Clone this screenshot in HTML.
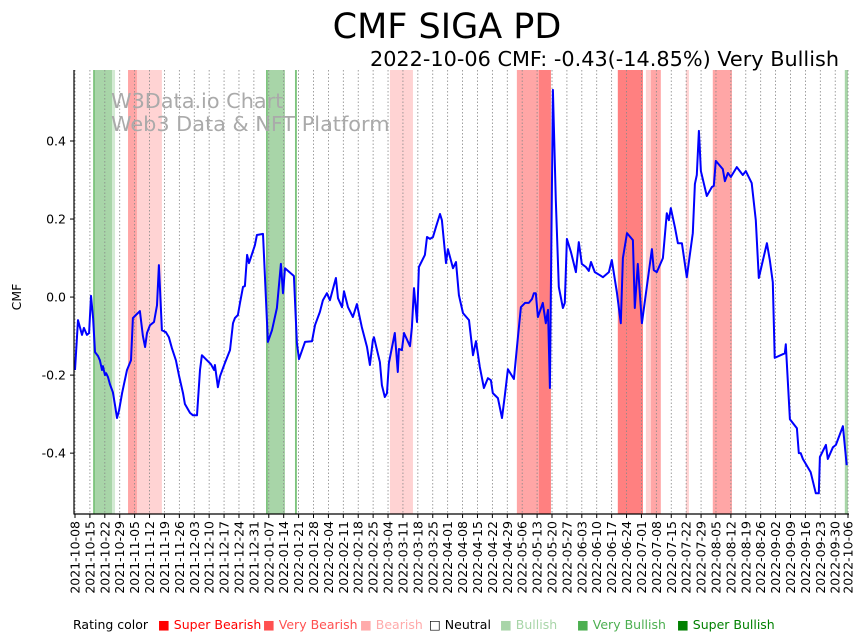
<!DOCTYPE html>
<html><head><meta charset="utf-8"><style>
body{margin:0;background:#fff;}
svg{display:block;font-family:"DejaVu Sans","Liberation Sans",sans-serif;}
</style></head><body>
<svg id="c" width="867" height="641" viewBox="0 0 867 641" xmlns="http://www.w3.org/2000/svg">
<text x="447" y="38" font-size="35" text-anchor="middle" fill="#000">CMF SIGA PD</text>
<text x="839" y="66" font-size="20.8" text-anchor="end" fill="#000">2022-10-06 CMF: -0.43(-14.85%) Very Bullish</text>
<g id="bands"></g>
<g id="grid"></g>
<text x="111" y="108" font-size="20.8" fill="#aaa">W3Data.io Chart</text>
<text x="111" y="131" font-size="20.8" fill="#aaa">Web3 Data &amp; NFT Platform</text>
<g id="series"></g>
<g id="axes"></g>
<text transform="translate(21,297) rotate(-90)" font-size="12.5" text-anchor="middle">CMF</text>
<g font-size="12.5">
<text x="73" y="629">Rating color</text>
<text x="158" y="629" fill="#ff0000">■ Super Bearish</text>
<text x="263" y="629" fill="#ff5050">■ Very Bearish</text>
<text x="360" y="629" fill="#ffaaaa">■ Bearish</text>
<text x="429" y="629" fill="#000">□ Neutral</text>
<text x="500" y="629" fill="#a8d5a8">■ Bullish</text>
<text x="577" y="629" fill="#4caf50">■ Very Bullish</text>
<text x="677" y="629" fill="#008000">■ Super Bullish</text>
</g>
</svg>
<script>
const startDate = Date.UTC(2021, 9, 8);
const totalDays = 363;
const yTicks = [-0.4, -0.2, 0.0, 0.2, 0.4];
const days = [0,1.4,3.3,4.2,5.6,6.6,7.5,8.5,9.4,10.8,11.7,12.7,13.1,14.1,14.6,15.5,16.4,17.8,18.8,19.7,20.7,22.1,23,24.4,26.3,27.2,28.6,30.5,31.9,32.9,33.8,35.2,37.1,38.5,39.4,40.8,42.7,44.1,45.5,47.4,48.8,50.7,51.6,54,55.4,57.3,58.7,59.6,62,63.8,65.3,65.7,67.1,68.1,70.4,72.8,74.2,75.1,76.5,77.5,78.9,79.8,80.8,81.7,84.5,85.4,88.3,90.6,92.5,94.8,96.7,97.7,98.6,102.8,104.2,105.2,108,111.3,112.7,115,116.4,118.3,119.7,122.5,123.5,125.4,126.3,128.2,130.5,132.4,134.7,137.1,138.5,139.9,140.4,143.2,144.1,145.5,146.5,147.4,150.2,151.6,152.1,153.5,154.5,157.3,158.2,159.2,160.6,161.5,164.3,165.3,166.7,168.1,169.5,171.4,172.3,174.2,175.1,177.5,178.9,180.3,182.2,185,186.9,188.3,190.1,192,193.9,195.3,196.2,198.6,200.5,201.9,203.3,206.1,208,209.4,211.3,213.1,214.6,215.5,216.4,217.4,219.7,221.1,222.1,223,224.4,225.8,227.2,229.1,230,231,232.9,235.2,236.6,238,239.9,241.3,242.3,244.1,246.5,247.9,250.7,252.1,254.5,256.3,257.3,259.2,262,262.9,264.3,266.2,268.5,270.9,271.8,273.2,276.1,277.9,278.9,279.8,281.7,283.1,285,287.3,290.1,291.1,292,293,293.9,296.7,299.1,300,300.9,304.2,305.2,306.6,308,310.8,313.6,315,317.8,319.7,321.1,324.9,326.3,327.7,328.6,333.3,333.8,335.7,339,339.9,340.8,341.8,345.5,347.9,349.3,349.8,352.6,353.5,355.9,357.3,360.6,362.4];
const cmf = [-0.187,-0.059,-0.097,-0.079,-0.097,-0.092,0.003,-0.054,-0.141,-0.151,-0.162,-0.187,-0.177,-0.2,-0.195,-0.205,-0.223,-0.244,-0.277,-0.31,-0.29,-0.246,-0.223,-0.187,-0.162,-0.054,-0.046,-0.036,-0.1,-0.128,-0.092,-0.072,-0.064,-0.021,0.082,-0.085,-0.09,-0.103,-0.131,-0.162,-0.2,-0.246,-0.274,-0.297,-0.303,-0.303,-0.187,-0.149,-0.162,-0.172,-0.187,-0.174,-0.231,-0.203,-0.169,-0.136,-0.067,-0.054,-0.046,-0.015,0.026,0.028,0.108,0.087,0.133,0.159,0.162,-0.115,-0.085,-0.028,0.085,0.01,0.074,0.054,-0.118,-0.159,-0.115,-0.113,-0.072,-0.038,-0.008,0.01,-0.008,0.049,-0.003,-0.026,0.015,-0.026,-0.051,-0.018,-0.077,-0.128,-0.174,-0.11,-0.103,-0.167,-0.226,-0.256,-0.246,-0.169,-0.092,-0.192,-0.133,-0.136,-0.092,-0.126,-0.077,0.023,-0.064,0.077,0.108,0.154,0.149,0.154,0.179,0.213,0.197,0.087,0.123,0.074,0.09,0.005,-0.041,-0.059,-0.149,-0.113,-0.179,-0.233,-0.208,-0.213,-0.246,-0.259,-0.31,-0.251,-0.185,-0.21,-0.103,-0.026,-0.015,-0.015,-0.005,0.01,0.01,-0.051,-0.015,-0.067,-0.033,-0.233,0.531,0.249,0.026,-0.028,-0.015,0.149,0.115,0.064,0.141,0.085,0.077,0.067,0.09,0.064,0.056,0.051,0.064,0.095,0.01,-0.067,0.1,0.164,0.146,-0.028,0.085,-0.067,0.026,0.123,0.069,0.064,0.1,0.215,0.197,0.228,0.179,0.138,0.138,0.051,0.164,0.29,0.313,0.426,0.323,0.259,0.282,0.285,0.349,0.328,0.297,0.318,0.308,0.333,0.313,0.323,0.292,0.197,0.049,0.138,0.095,0.038,-0.156,-0.144,-0.121,-0.313,-0.336,-0.4,-0.4,-0.415,-0.449,-0.503,-0.503,-0.41,-0.379,-0.415,-0.385,-0.379,-0.331,-0.431];
const bandStart = [8.5,9.4,17.4,24.9,29.1,89.7,90.6,103.3,147.9,207.5,217.8,254.9,268.1,270.4,286.9,299.5,361.5];
const bandEnd   = [9.4,17.4,18.8,29.1,40.8,90.6,98.6,104.2,158.7,217.8,223.5,266.7,270.4,275.1,288.3,308.5,363];
const bandRating= ["very-bullish","bullish","bullish-light","very-bearish","bearish","very-bullish","bullish","very-bullish","bearish","very-bearish","super-bearish","super-bearish","bearish","very-bearish","bearish","very-bearish","bullish"];
const bandColors = {"very-bullish":"#7fc47f","bullish":"#a8d5a8","bullish-light":"#d2ead2","very-bearish":"#ffa6a6","bearish":"#ffd3d3","super-bearish":"#ff8080"};

const X0=75, X1=848, Y0=70, Y1=514;
const yMin=-0.556, yMax=0.582;
const xs = d => X0 + (d/totalDays)*(X1-X0);
const ys = v => Y1 - (v-yMin)/(yMax-yMin)*(Y1-Y0);
const NS="http://www.w3.org/2000/svg";
function mk(tag, attrs, parent){const e=document.createElementNS(NS,tag);for(const k in attrs)e.setAttribute(k,attrs[k]);parent.appendChild(e);return e;}

const bands=document.getElementById('bands');
for(let i=0;i<bandStart.length;i++){
  const r=mk('rect',{x:xs(bandStart[i]),y:Y0,width:xs(bandEnd[i])-xs(bandStart[i]),height:Y1-Y0,fill:bandColors[bandRating[i]]},bands);
  
  
}

const grid=document.getElementById('grid');
const axes=document.getElementById('axes');
const tickDays=[];
for(let d=0; d<=totalDays-3; d+=7) tickDays.push(d);
tickDays.push(totalDays);
tickDays.forEach(d=>{
  const x=xs(d);
  const g=mk('line',{x1:x,x2:x,y1:Y0,y2:Y1,stroke:'#888','stroke-width':0.8,'stroke-dasharray':'1.5,2'},grid);
  
  
  const t=mk('line',{x1:x,x2:x,y1:Y1,y2:Y1+4,stroke:'#000','stroke-width':1},axes);
  
  
  const dt=new Date(startDate+d*86400000);
  const lbl=dt.toISOString().slice(0,10);
  const tx=mk('text',{transform:`translate(${x+4.5},${Y1+7}) rotate(-90)`,'font-size':12.5,'text-anchor':'end'},axes);
  tx.textContent=lbl;
  
  
});
yTicks.forEach(v=>{
  const y=ys(v);
  const t=mk('line',{x1:X0-5,x2:X0-1,y1:y,y2:y,stroke:'#000','stroke-width':1},axes);
  
  
  const tx=mk('text',{x:X0-9,y:y+4.5,'font-size':12.5,'text-anchor':'end'},axes);
  tx.textContent=v.toFixed(1);
  
  
});
const sp1=mk('line',{x1:X0-1,x2:X0-1,y1:Y0,y2:Y1+0.5,stroke:'#000','stroke-width':1.2},axes);


const sp2=mk('line',{x1:X0-1,x2:X1+1,y1:Y1,y2:Y1,stroke:'#000','stroke-width':1.2},axes);



const series=document.getElementById('series');
const pts=days.map((d,i)=>xs(d).toFixed(1)+','+ys(cmf[i]).toFixed(1)).join(' ');
const line=mk('polyline',{points:pts,fill:'none',stroke:'#0000ff','stroke-width':2,'stroke-linejoin':'round'},series);


</script>
</body></html>
